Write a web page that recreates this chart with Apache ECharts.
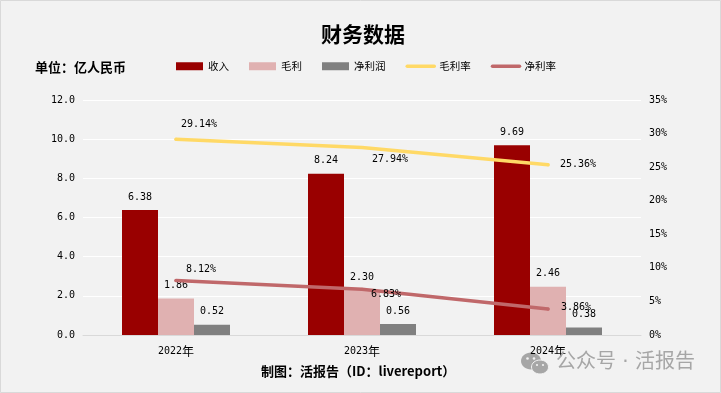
<!DOCTYPE html>
<html>
<head>
<meta charset="utf-8">
<title>财务数据</title>
<script src="https://cdn.jsdelivr.net/npm/echarts@6/dist/echarts.min.js"></script>
<style>
html, body { margin: 0; padding: 0; background: #f2f2f2; }
#main { width: 721px; height: 393px; }
</style>
</head>
<body>
<div id="main"></div>
<script>
// 数据
const years = ['2022年', '2023年', '2024年']
const revenue = [6.38, 8.24, 9.69]
const grossProfit = [1.86, 2.30, 2.46]
const netProfit = [0.52, 0.56, 0.38]
const grossMargin = [29.14, 27.94, 25.36]
const netMargin = [8.12, 6.83, 3.86]

// 折线标签的偏移
const grossOffsets = [[23, -3], [28, 24], [30, 11]]
const netOffsets = [[25, 0], [24, 17], [28, 10]]

const monoFont = '"DejaVu Sans Mono", "Noto Sans CJK SC", monospace'
const cjkFont = '"Noto Sans CJK SC", sans-serif'

function barSeries(name, data, color) {
  return {
    name: name,
    type: 'bar',
    data: data,
    barWidth: 36,
    barGap: 0,
    itemStyle: { color: color },
    label: {
      show: true,
      position: 'top',
      distance: 8,
      color: '#000',
      fontFamily: monoFont,
      fontSize: 10,
      formatter: (p) => p.value.toFixed(2)
    }
  }
}

function lineSeries(name, data, color, offsets) {
  return {
    name: name,
    type: 'line',
    yAxisIndex: 1,
    data: data.map((v, i) => ({
      value: v,
      label: { offset: offsets[i] }
    })),
    symbol: 'circle',
    symbolSize: 3,
    showSymbol: true,
    z: 5,
    lineStyle: { color: color, width: 3.5, cap: 'round' },
    itemStyle: { color: color },
    label: {
      show: true,
      position: 'top',
      color: '#000',
      fontFamily: monoFont,
      fontSize: 10,
      formatter: (p) => p.value.toFixed(2) + '%'
    }
  }
}

const myChart = echarts.init(document.getElementById('main'), null, { renderer: 'canvas' })

myChart.setOption({
  animation: false,
  backgroundColor: '#f2f2f2',
  title: [
    {
      text: '财务数据',
      left: 321,
      top: 19,
      padding: [5, 0],
      textStyle: { fontFamily: cjkFont, fontSize: 21, fontWeight: 'bold', color: '#000' }
    },
    {
      text: '单位：亿人民币',
      left: 35,
      top: 61,
      padding: 0,
      textStyle: { fontFamily: cjkFont, fontSize: 13, fontWeight: 'bold', color: '#000' }
    },
    {
      text: '制图：活报告（ID：livereport）',
      left: 261,
      top: 365,
      padding: 0,
      textStyle: { fontFamily: cjkFont, fontSize: 13, fontWeight: 'bold', color: '#000' }
    },
    {
      text: '公众号 · 活报告',
      left: 556,
      top: 353,
      padding: 0,
      textStyle: { fontFamily: '"DejaVu Sans", "Noto Sans CJK SC", sans-serif', fontSize: 20, fontWeight: 'normal', color: '#a6a6a6' }
    }
  ],
  legend: {
    left: 176,
    top: 61,
    padding: 0,
    itemWidth: 27,
    itemHeight: 8,
    itemGap: 20,
    lineStyle: { width: 3.5 },
    textStyle: { fontFamily: cjkFont, fontSize: 10.5, color: '#000' },
    data: [
      { name: '收入', icon: 'rect' },
      { name: '毛利', icon: 'rect' },
      { name: '净利润', icon: 'rect' },
      { name: '毛利率', itemStyle: { color: 'transparent', borderWidth: 0 } },
      { name: '净利率', itemStyle: { color: 'transparent', borderWidth: 0 } }
    ]
  },
  grid: { left: 83, right: 80, top: 100, bottom: 58 },
  xAxis: {
    type: 'category',
    data: years,
    axisTick: { show: false },
    axisLine: { lineStyle: { color: '#d9d9d9', width: 1 } },
    axisLabel: {
      color: '#000',
      fontFamily: monoFont,
      fontSize: 10,
      margin: 10,
      formatter: (v) => v.replace('年', '{y|年}'),
      rich: { y: { fontFamily: cjkFont, fontSize: 12, color: '#000' } }
    }
  },
  yAxis: [
    {
      type: 'value',
      min: 0,
      max: 12,
      interval: 2,
      axisLine: { show: false },
      axisTick: { show: false },
      axisLabel: {
        color: '#000',
        fontFamily: monoFont,
        fontSize: 10,
        margin: 8,
        formatter: (v) => v.toFixed(1)
      },
      splitLine: { lineStyle: { color: '#ffffff', width: 1 } }
    },
    {
      type: 'value',
      min: 0,
      max: 35,
      interval: 5,
      axisLine: { show: false },
      axisTick: { show: false },
      axisLabel: {
        color: '#000',
        fontFamily: monoFont,
        fontSize: 10,
        margin: 8,
        formatter: '{value}%'
      },
      splitLine: { show: false }
    }
  ],
  series: [
    barSeries('收入', revenue, '#990000'),
    barSeries('毛利', grossProfit, '#e0b1b1'),
    barSeries('净利润', netProfit, '#808080'),
    lineSeries('毛利率', grossMargin, '#ffd966', grossOffsets),
    lineSeries('净利率', netMargin, '#c0686a', netOffsets)
  ],
  graphic: [
    // 外边框
    {
      type: 'rect',
      silent: true,
      shape: { x: 0.5, y: 0.5, width: 720, height: 392 },
      style: { fill: 'none', stroke: '#d9d9d9', lineWidth: 1 }
    },
    // 水印图标
    { type: 'ellipse', silent: true, shape: { cx: 531, cy: 361, rx: 10, ry: 8.5 }, style: { fill: '#a6a6a6' } },
    { type: 'circle', silent: true, shape: { cx: 527.5, cy: 358.5, r: 1.3 }, style: { fill: '#f2f2f2' } },
    { type: 'circle', silent: true, shape: { cx: 534, cy: 358.5, r: 1.3 }, style: { fill: '#f2f2f2' } },
    { type: 'ellipse', silent: true, shape: { cx: 540, cy: 367, rx: 8.5, ry: 7 }, style: { fill: '#a6a6a6', stroke: '#f2f2f2', lineWidth: 1 } },
    { type: 'circle', silent: true, shape: { cx: 537, cy: 365, r: 1.1 }, style: { fill: '#f2f2f2' } },
    { type: 'circle', silent: true, shape: { cx: 543, cy: 365, r: 1.1 }, style: { fill: '#f2f2f2' } }
  ]
})
</script>
</body>
</html>
